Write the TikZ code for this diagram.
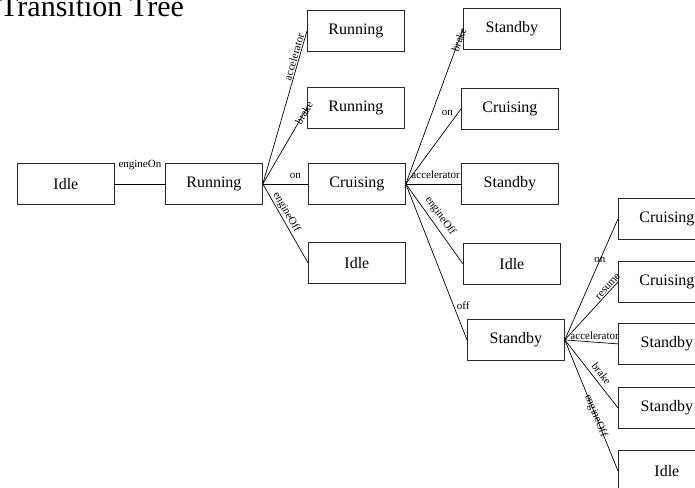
\documentclass[tikz,border=0pt]{standalone}
\usepackage{fontspec}
\setmainfont{Liberation Serif}
\begin{document}
\begin{tikzpicture}[x=1bp,y=-1bp,
  state/.style={draw=black!85, line width=0.8bp, rectangle, anchor=north west,
    minimum width=97bp, minimum height=41bp, inner sep=0pt,
    font=\fontsize{16bp}{19bp}\selectfont},
  edge/.style={draw=black, line width=0.7bp},
  lbl/.style={inner sep=1bp, font=\fontsize{11bp}{13bp}\selectfont}]
\useasboundingbox (0,0) rectangle (695,488);

% title
\node[anchor=base west, inner sep=0pt, font=\fontsize{30bp}{34bp}\selectfont] (title) at (0,17) {Transition Tree};

% level 0 and 1
\node[state] (idle0) at (17,163) {Idle};
\node[state] (run1)  at (165,163) {Running};

% level 2
\node[state] (runA)  at (307,10)  {Running};
\node[state] (runB)  at (307,87)  {Running};
\node[state] (cru2)  at (308,163) {Cruising};
\node[state] (idle2) at (308,242) {Idle};

% level 3
\node[state] (stbA)  at (463,8)   {Standby};
\node[state] (cruB)  at (461,88)  {Cruising};
\node[state] (stbC)  at (461,163) {Standby};
\node[state] (idleD) at (463,243) {Idle};
\node[state] (stbE)  at (467,319) {Standby};

% level 4
\node[state] (cru4a)  at (618,198) {Cruising};
\node[state] (cru4b)  at (618,261) {Cruising};
\node[state] (stb4c)  at (618,323) {Standby};
\node[state] (stb4d)  at (618,387) {Standby};
\node[state] (idle4e) at (618,450) {Idle};

% transitions
\draw[edge] (idle0.east) -- (run1.west) node[lbl, pos=.5, above=13bp] {engineOn};

\draw[edge] (run1.east) -- (runA.west) node[lbl, pos=.82, sloped, above=0bp] {accelerator};
\draw[edge] (run1.east) -- (runB.west) node[lbl, pos=.93, sloped] {brake};
\draw[edge] (run1.east) -- (cru2.west) node[lbl, pos=.72, above=4bp] {on};
\draw[edge] (run1.east) -- (idle2.west) node[lbl, pos=.40, sloped, above=0bp] {engineOff};

\draw[edge] (cru2.east) -- (stbA.west) node[lbl, pos=.93, sloped] {brake};
\draw[edge] (cru2.east) -- (cruB.west) node[lbl, pos=.95, left=4bp] {on};
\draw[edge] (cru2.east) -- (stbC.west) node[lbl, pos=.54, above=4bp] {accelerator};
\draw[edge] (cru2.east) -- (idleD.west) node[lbl, pos=.47, sloped, above=3bp] {engineOff};
\draw[edge] (cru2.east) -- (stbE.west) node[lbl, pos=.78, right=2bp] {off};

\draw[edge] (stbE.east) -- (cru4a.west) node[lbl, pos=.66] {on};
\draw[edge] (stbE.east) -- (cru4b.west) node[lbl, pos=.87, sloped, above=0bp] {resume};
\draw[edge] (stbE.east) -- (stb4c.west) node[lbl, pos=.56, above=1bp] {accelerator};
\draw[edge] (stbE.east) -- (stb4d.west) node[lbl, pos=.57, sloped, above=3bp] {brake};
\draw[edge] (stbE.east) -- (idle4e.west) node[lbl, pos=.58, sloped] {engineOff};
\end{tikzpicture}
\end{document}
